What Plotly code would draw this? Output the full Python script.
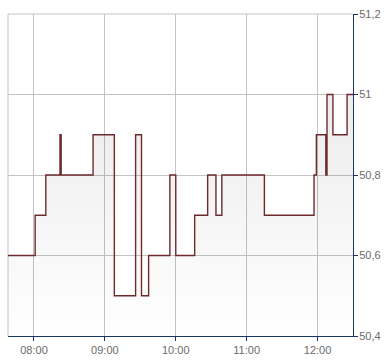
import plotly.graph_objects as go

day = "2024-01-01 "
times = ["07:38", "08:01", "08:10", "08:22", "08:23", "08:50", "09:08", "09:26",
         "09:31", "09:37", "09:55", "10:00", "10:16", "10:27", "10:34", "10:39",
         "11:15", "11:57", "11:59", "12:07", "12:08", "12:13", "12:25", "12:30"]
prices = [50.6, 50.7, 50.8, 50.9, 50.8, 50.9, 50.5, 50.9,
          50.5, 50.6, 50.8, 50.6, 50.7, 50.8, 50.7, 50.8,
          50.7, 50.8, 50.9, 50.8, 51.0, 50.9, 51.0, 51.0]
x_range = ["07:38", "12:30"]
y_range = [50.4, 51.2]

xs = [day + t for t in times]

navy = "#1b3668"
grid = "#c3c3c3"
label = "#6a6a6a"

fig = go.Figure()
fig.add_trace(go.Scatter(
    x=xs, y=prices, mode="lines",
    line=dict(color="#6e2b2e", width=1.4, shape="hv"),
    fill="tozeroy",
    fillgradient=dict(type="vertical",
                      colorscale=[[0, "rgba(0,0,0,0.0)"], [1, "rgba(0,0,0,0.075)"]],
                      start=y_range[0], stop=51.0),
    hoverinfo="skip", showlegend=False,
))

# gray frame on the left and top edges
fig.add_shape(type="line", xref="paper", yref="paper", x0=0, x1=0, y0=0, y1=1,
              line=dict(color=grid, width=1), layer="below")
fig.add_shape(type="line", xref="paper", yref="paper", x0=0, x1=1, y0=1, y1=1,
              line=dict(color=grid, width=1), layer="below")

fig.update_layout(
    width=390, height=364,
    margin=dict(l=8, r=37, t=12, b=24),
    paper_bgcolor="white", plot_bgcolor="white",
    separators=", ",
    font=dict(family="Liberation Sans, Arial, sans-serif", size=11, color=label),
    xaxis=dict(
        type="date", range=[day + x_range[0], day + x_range[1]],
        tick0=day + "08:00", dtick=3600000, tickformat="%H:%M",
        showgrid=True, gridcolor=grid, gridwidth=1,
        showline=True, linecolor=navy, linewidth=1,
        ticks="outside", ticklen=4, tickcolor=navy,
        zeroline=False, fixedrange=True, layer="above traces",
    ),
    yaxis=dict(
        range=y_range, side="right", tick0=50.4, dtick=0.2,
        showgrid=True, gridcolor=grid, gridwidth=1,
        showline=True, linecolor=navy, linewidth=1,
        ticks="outside", ticklen=4, tickcolor=navy,
        ticklabelstandoff=-1,
        zeroline=False, fixedrange=True, layer="above traces",
    ),
)

fig.write_html("out.html")
